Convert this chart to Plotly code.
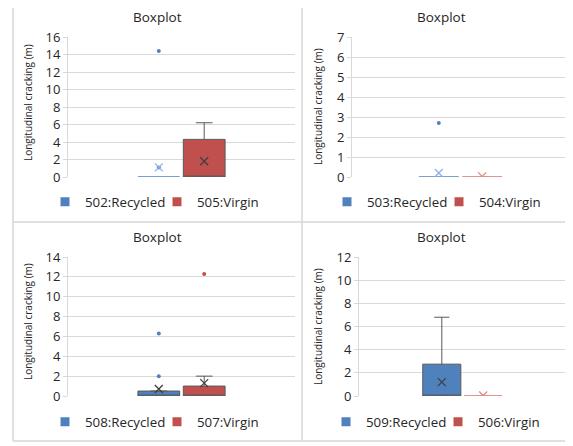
import plotly.graph_objects as go

# ---------------- data ----------------
panel_titles = ["Boxplot", "Boxplot", "Boxplot", "Boxplot"]
recycled_names = ["502:Recycled", "503:Recycled", "508:Recycled", "509:Recycled"]
virgin_names = ["505:Virgin", "504:Virgin", "507:Virgin", "506:Virgin"]

rec_q1 = [0, 0, 0, 0]
rec_median = [0, 0, 0, 0]
rec_q3 = [0, 0, 0.5, 2.75]
rec_lower = [0, 0, 0, 0]
rec_upper = [0, 0, 0.5, 6.8]
rec_mean = [1.1, 0.2, 0.7, 1.2]
rec_outliers = [[1.1, 14.4], [2.7], [2.0, 6.3], []]

vir_q1 = [0, 0, 0, 0]
vir_median = [0, 0, 0, 0]
vir_q3 = [4.3, 0, 1.0, 0]
vir_lower = [0, 0, 0, 0]
vir_upper = [6.2, 0, 2.0, 0]
vir_mean = [1.8, 0.03, 1.3, 0.05]
vir_outliers = [[], [], [12.3], []]

y_max = [16, 7, 14, 12]
y_step = [2, 1, 2, 2]
y_title = "Longitudinal cracking (m)"

# ---------------- styling ----------------
W, H = 573, 446
OFF = 8  # page body margin offset
BLUE = "#4F81BD"
RED = "#C0504D"
BLUE_FLAT = "#4F81BD"
RED_FLAT = "#D8716F"
BLUE_LIGHT = "#8EB4E3"
RED_LIGHT = "#E08A88"
EDGE = "#595959"
GRID = "#D9D9D9"
FONT = "Open Sans"

# plot areas in screen pixels: (left, right, top, bottom)
areas = [(68, 295, 37, 177), (352, 569, 37, 177), (68, 295, 257, 396), (359, 566, 257, 396)]
title_pos = [(157, 17), (441, 17), (157, 237), (441, 237)]
ytitle_pos = [(28, 103), (318, 107), (28, 322), (318, 327)]
legend_pos = [(45, 202), (327, 202), (45, 422), (326, 422)]


def px_x(v):
    return (v - OFF) / W


def px_y(v):
    return 1 - (v - OFF) / H


fig = go.Figure()

for i in range(4):
    sfx = "" if i == 0 else str(i + 1)
    xa, ya = "x" + sfx, "y" + sfx
    leg = "legend" if i == 0 else "legend" + str(i + 1)
    cats = [recycled_names[i], virgin_names[i]]

    series = [
        (recycled_names[i], rec_q1[i], rec_median[i], rec_q3[i], rec_lower[i], rec_upper[i],
         rec_mean[i], rec_outliers[i], BLUE, BLUE_FLAT, BLUE_LIGHT),
        (virgin_names[i], vir_q1[i], vir_median[i], vir_q3[i], vir_lower[i], vir_upper[i],
         vir_mean[i], vir_outliers[i], RED, RED_FLAT, RED_LIGHT),
    ]
    for name, q1, med, q3, lo, up, mean, outl, col, flatcol, light in series:
        flat = (q3 - q1) == 0
        fig.add_trace(go.Box(
            x=[name], q1=[q1], median=[med], q3=[q3], lowerfence=[lo], upperfence=[up],
            width=0.92, fillcolor=col,
            line=dict(color=flatcol if flat else EDGE, width=1.5 if flat else 1),
            whiskerwidth=0.4, xaxis=xa, yaxis=ya, showlegend=False, hoverinfo="skip",
        ))
        if outl:
            fig.add_trace(go.Scatter(
                x=[name] * len(outl), y=outl, mode="markers",
                marker=dict(color=col, size=4), xaxis=xa, yaxis=ya, showlegend=False,
            ))
        mcol = light if flat else "#404040"
        fig.add_trace(go.Scatter(
            x=[name], y=[mean], mode="markers",
            marker=dict(symbol="x-thin-open", size=8, color=mcol,
                        line=dict(color=mcol, width=1.3)),
            xaxis=xa, yaxis=ya, showlegend=False,
        ))
        # legend entry
        fig.add_trace(go.Scatter(
            x=[None], y=[None], mode="markers", name=name,
            marker=dict(symbol="square", size=9, color=col),
            xaxis=xa, yaxis=ya, legend=leg, showlegend=True,
        ))

    l, r, t, b = areas[i]
    fig.layout["xaxis" + sfx] = dict(
        domain=[px_x(l), px_x(r)], type="category", categoryarray=cats,
        categoryorder="array", range=[-2, 3], showticklabels=False, showgrid=False,
        zeroline=False, showline=False, ticks="", anchor=ya, fixedrange=True,
    )
    fig.layout["yaxis" + sfx] = dict(
        domain=[px_y(b), px_y(t)], range=[0, y_max[i]], dtick=y_step[i],
        showgrid=True, gridcolor=GRID, gridwidth=1, zeroline=False,
        showline=True, linecolor=GRID, ticks="outside", ticklen=4, tickcolor=GRID,
        tickfont=dict(family=FONT, size=13, color="#262626"), anchor=xa, fixedrange=True,
    )

    lx, ly = legend_pos[i]
    fig.layout[leg] = dict(
        orientation="h", x=px_x(lx), y=px_y(ly), xanchor="left", yanchor="middle",
        font=dict(family=FONT, size=13.3, color="#262626"), bgcolor="rgba(0,0,0,0)",
        entrywidth=67, itemclick=False, itemdoubleclick=False,
    )

    tx, ty = title_pos[i]
    fig.add_annotation(text=panel_titles[i], x=px_x(tx), y=px_y(ty), xref="paper", yref="paper",
                       xanchor="center", yanchor="middle",
                       showarrow=False, font=dict(family=FONT, size=13.5, color="#262626"))
    ax, ay = ytitle_pos[i]
    fig.add_annotation(text=y_title, x=px_x(ax), y=px_y(ay), xref="paper", yref="paper",
                       xanchor="center", yanchor="middle",
                       showarrow=False, textangle=-90,
                       font=dict(family=FONT, size=10, color="#262626"))

# panel borders
border = dict(color="#E0E0E0", width=2)
for xv in [13, 302]:
    fig.add_shape(type="line", xref="paper", yref="paper", x0=px_x(xv), x1=px_x(xv),
                  y0=px_y(441), y1=px_y(4), line=border)
for yv in [4, 222, 441]:
    fig.add_shape(type="line", xref="paper", yref="paper", x0=px_x(13), x1=1,
                  y0=px_y(yv), y1=px_y(yv), line=border)

fig.update_layout(
    width=W, height=H, margin=dict(l=0, r=0, t=0, b=0, autoexpand=False),
    paper_bgcolor="white", plot_bgcolor="white", boxmode="overlay",
)

fig.write_html("out.html")
